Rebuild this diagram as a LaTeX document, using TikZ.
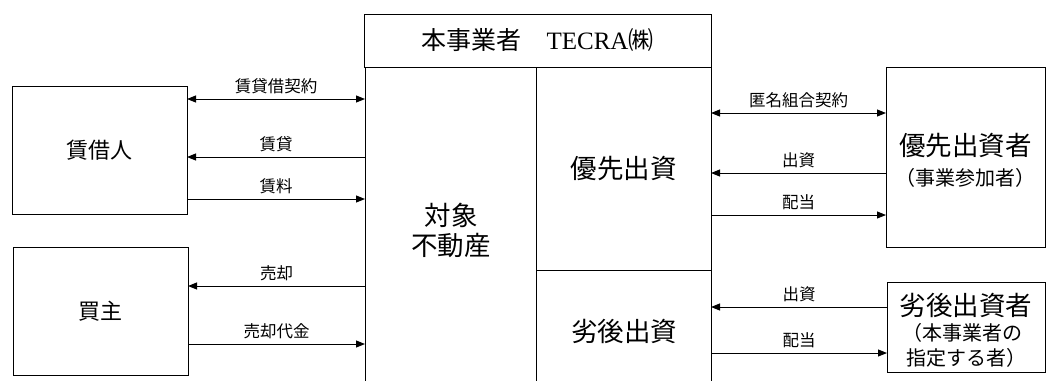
\documentclass[tikz,border=0pt]{standalone}
\usepackage{fontspec}
\newfontfamily\jp{Noto Sans CJK JP}
\newfontfamily\serifrm{Liberation Serif}
\usetikzlibrary{arrows.meta, positioning}

\newcommand\smalltxt{\fontsize{16.5}{19}\selectfont}
\newcommand\midtxt{\fontsize{20}{25}\selectfont}
\newcommand\bigtxt{\fontsize{26.5}{30}\selectfont}

\tikzset{
  box/.style={draw, line width=1pt, inner sep=0pt, outer sep=0pt},
  arr/.style={line width=1pt, -{Triangle[length=9pt,width=7pt]}},
  darr/.style={line width=1pt, {Triangle[length=9pt,width=7pt]}-{Triangle[length=9pt,width=7pt]}},
  lab/.style={font=\jp\smalltxt, inner sep=0pt, above=5pt},
}

\begin{document}
\begin{tikzpicture}[x=1pt, y=-1pt, font=\jp]
\useasboundingbox (0,0) rectangle (1048,381);

% business operator
\node[box, minimum width=347pt, minimum height=53pt, font=\jp\fontsize{25}{30}\selectfont] (tecra) at (537.5,40.5) {本事業者　{\serifrm TECRA}㈱};
\node[minimum width=171pt, minimum height=314pt, inner sep=0pt, outer sep=0pt, anchor=north west] (prop) at (365,67) {};
\node[box, minimum width=175pt, minimum height=203pt, anchor=north west] (senior) at (536,67) {};
\node[minimum width=175pt, minimum height=111pt, inner sep=0pt, outer sep=0pt, anchor=north west] (junior) at (536,270) {};
\draw[line width=1pt] (prop.north west) -- (prop.south west);
\draw[line width=1pt] (junior.north west) -- (junior.south west);
\draw[line width=1pt] (junior.north east) -- (junior.south east);
\node[font=\jp\bigtxt, align=center] (prop-t) at (451,230) {対象\\不動産};
\node[font=\jp\bigtxt] (senior-t) at (senior) {優先出資};
\node[font=\jp\bigtxt] (junior-t) at (624,331) {劣後出資};

% lessee and buyer
\node[box, minimum width=175pt, minimum height=128pt, font=\jp\fontsize{22}{26}\selectfont] (lessee) at (99.5,150) {賃借人};
\node[box, minimum width=175pt, minimum height=128pt, font=\jp\fontsize{22}{26}\selectfont] (buyer) at (100.5,311) {買主};

% investors
\node[box, minimum width=159pt, minimum height=180pt] (sinv) at (965.5,157) {};
\node[font=\jp\bigtxt] (sinv-t1) at (965.5,145) {優先出資者};
\node[font=\jp\midtxt] (sinv-t2) at (965.5,178) {（事業参加者）};
\node[box, minimum width=158pt, minimum height=90pt] (jinv) at (966,327) {};
\node[font=\jp\bigtxt] (jinv-t1) at (966,305) {劣後出資者};
\node[font=\jp\midtxt] (jinv-t2) at (962,333) {（本事業者の};
\node[font=\jp\midtxt] (jinv-t3) at (966,358) {指定する者）};

\draw[darr] (lessee.east |- 0,99) -- (prop.west |- 0,99) node[midway, lab] {賃貸借契約};
\draw[arr] (prop.west |- 0,157) -- (lessee.east |- 0,157) node[midway, lab] {賃貸};
\draw[arr] (lessee.east |- 0,199) -- (prop.west |- 0,199) node[midway, lab] {賃料};
\draw[arr] (prop.west |- 0,286) -- (buyer.east |- 0,286) node[midway, lab] {売却};
\draw[arr] (buyer.east |- 0,344) -- (prop.west |- 0,344) node[midway, lab] {売却代金};
\draw[darr] (senior.east |- 0,113) -- (sinv.west |- 0,113) node[midway, lab] {匿名組合契約};
\draw[arr] (sinv.west |- 0,173) -- (senior.east |- 0,173) node[midway, lab] {出資};
\draw[arr] (senior.east |- 0,215) -- (sinv.west |- 0,215) node[midway, lab] {配当};
\draw[arr] (jinv.west |- 0,307) -- (junior.east |- 0,307) node[midway, lab] {出資};
\draw[arr] (junior.east |- 0,353) -- (jinv.west |- 0,353) node[midway, lab] {配当};
\end{tikzpicture}
\end{document}
